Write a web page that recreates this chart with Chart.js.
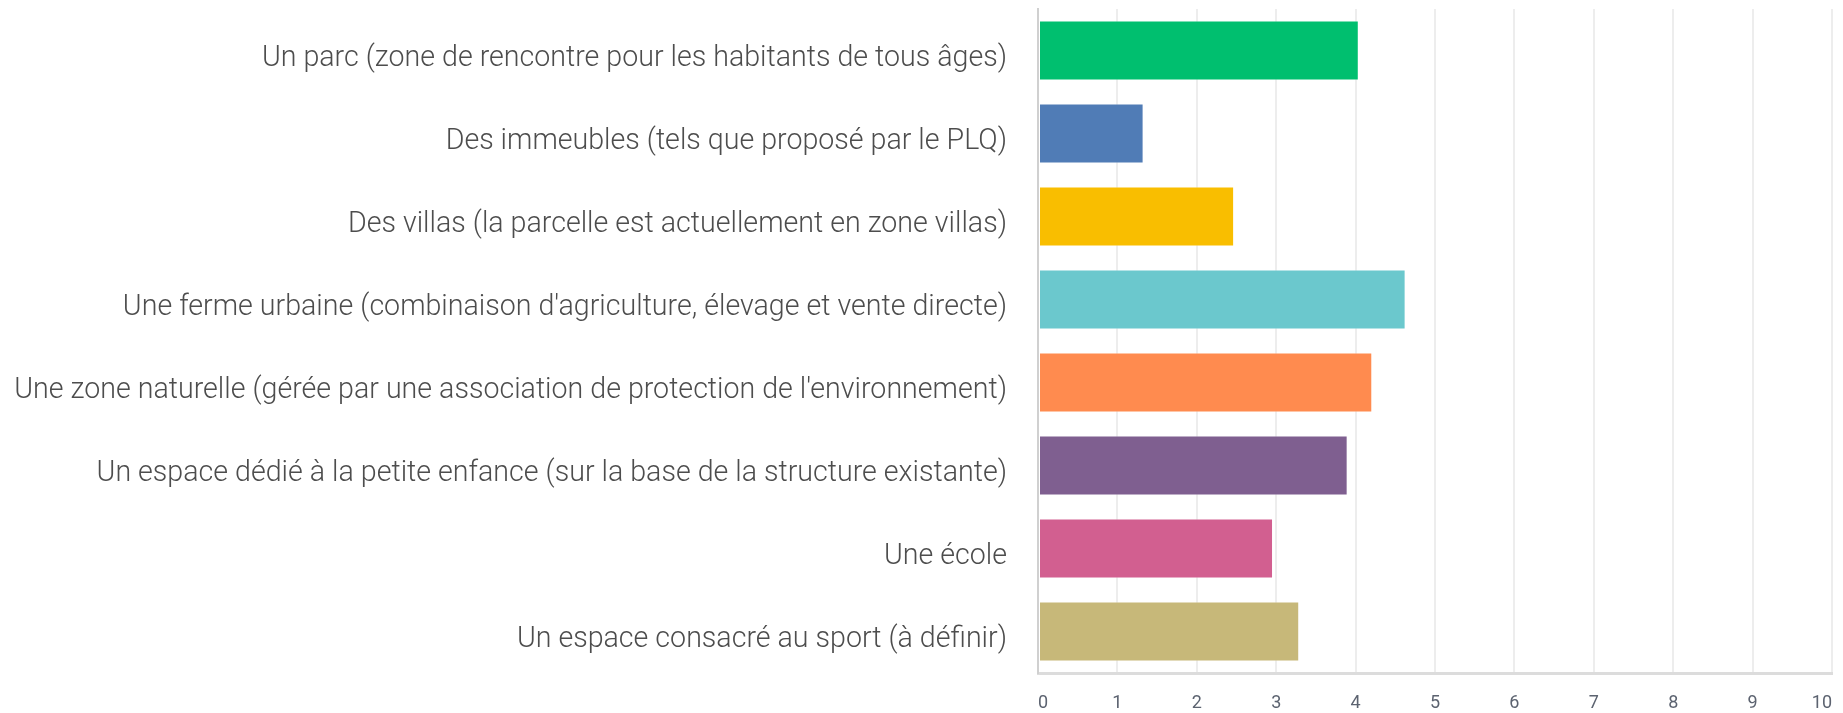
<!DOCTYPE html>
<html>
<head>
<meta charset="utf-8">
<script src="https://cdn.jsdelivr.net/npm/chart.js@4"></script>
<style>
  html, body { margin: 0; padding: 0; background: #fff; }
  #wrap { width: 1843px; height: 713px; }
</style>
</head>
<body>
<div id="wrap"><canvas id="chart"></canvas></div>
<script>
// Survey answers — one bar per option
const labels = [
    'Un parc (zone de rencontre pour les habitants de tous âges)',
    'Des immeubles (tels que proposé par le PLQ)',
    'Des villas (la parcelle est actuellement en zone villas)',
    "Une ferme urbaine (combinaison d'agriculture, élevage et vente directe)",
    "Une zone naturelle (gérée par une association de protection de l'environnement)",
    "Un espace dédié à la petite enfance (sur la base de la structure existante)",
    'Une école',
    'Un espace consacré au sport (à définir)'
];
const scores = [4.04, 1.33, 2.47, 4.63, 4.21, 3.90, 2.96, 3.29];
const barColors = ['#00bf6f', '#507cb6', '#f9be00', '#6bc8cd', '#ff8b4f', '#7f5f90', '#d25f90', '#c7b879'];
const xTicks = [0, 1, 2, 3, 4, 5, 6, 7, 8, 9, 10];

const labelColor = '#4d4d4d';
const tickColor  = '#5c6370';
const gridColor  = '#ededed';

new Chart(document.getElementById('chart'), {
    type: 'bar',
    data: {
        labels,
        datasets: [{
            data: scores,
            backgroundColor: barColors,
            borderColor: 'rgba(255,255,255,0.35)',
            borderWidth: 1,
            borderSkipped: false,
            categoryPercentage: 0.8,
            barPercentage: 0.9
        }]
    },
    options: {
        indexAxis: 'y',
        responsive: true,
        maintainAspectRatio: false,
        animation: false,
        layout: { padding: { top: 9, right: 11, left: 0, bottom: 0 } },
        plugins: { legend: { display: false }, tooltip: { enabled: false } },
        scales: {
            x: {
                min: 0,
                max: 10,
                afterBuildTicks: s => { s.ticks = xTicks.map(v => ({ value: v })); },
                afterFit: s => { s.height = 40; s.paddingLeft = 0; s.paddingRight = 0; },
                grid: { color: gridColor, lineWidth: 2, drawTicks: false },
                border: { color: '#dcdcdc', width: 3 },
                ticks: { color: tickColor, padding: 20, align: 'inner', font: { family: 'Roboto', size: 18 } }
            },
            y: {
                afterFit: s => { s.width = 1038; s.paddingTop = 0; s.paddingBottom = 0; },
                grid: { display: false, drawTicks: false },
                border: { color: '#d0d0d0', width: 2 },
                ticks: {
                    color: labelColor,
                    padding: 31,
                    labelOffset: 8,
                    font: { family: 'Roboto', weight: '300', size: 28.6 }
                }
            }
        }
    }
});
</script>
</body>
</html>
